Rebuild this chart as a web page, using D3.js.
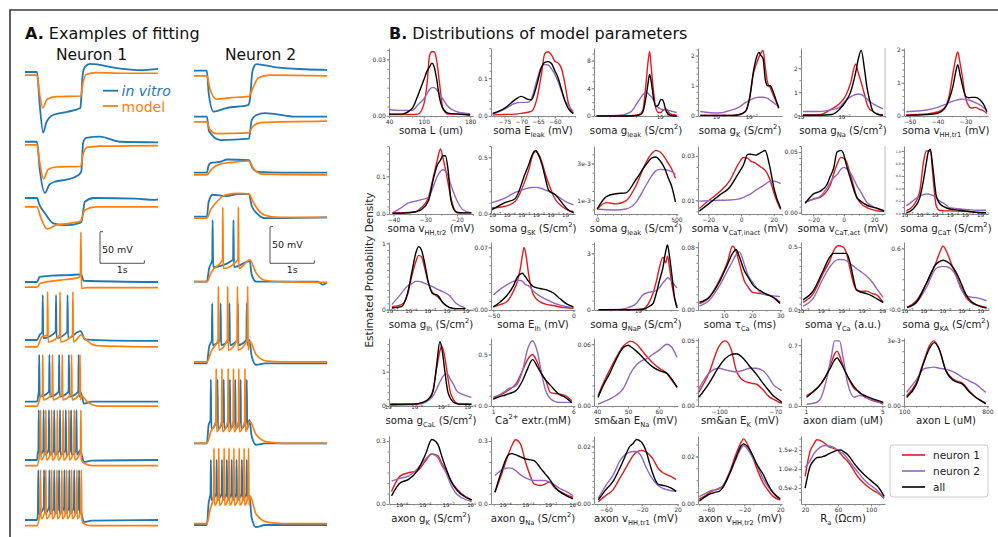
<!DOCTYPE html>
<html>
<head>
<meta charset="utf-8">
<script src="https://cdn.jsdelivr.net/npm/d3@7"></script>
<style>
body { margin: 0; background: #fff; }
svg { display: block; font-family: "DejaVu Sans", sans-serif; }
text { white-space: pre; }
</style>
</head>
<body>
<svg id="fig" width="998" height="537"></svg>
<script>

// ---------- Panel A: voltage traces, keypoints [t (s), dV (mV)] ----------
var n1VitroBase = [
  [0,0, 0.27,0, 0.33,-50, 0.41,-96, 0.48,-80, 0.63,-68, 0.95,-63, 1.25,-57, 1.27,-40, 1.3,-5, 1.35,8, 1.47,13, 2.08,6, 2.6,3, 3.0,5],
  [0,2, 0.27,2, 0.33,-40, 0.45,-79, 0.55,-66, 0.68,-61, 0.94,-58, 1.2,-51, 1.27,-45, 1.31,0, 1.38,8, 1.69,10, 2.14,2, 3.0,1],
  [0,0, 0.27,0, 0.32,-10, 0.45,-24, 0.64,-40, 0.94,-43, 1.2,-40, 1.27,-38, 1.35,-6, 1.55,0, 2.5,-1, 2.9,-3, 3.0,-2],
  [0,0, 0.27,0, 0.33,8, 0.6,10, 1.0,11, 1.27,12, 1.32,2, 3.0,0],
  [0,0, 0.27,0, 0.33,8, 1.25,14, 1.28,12, 1.35,1, 2.0,-1, 3.0,-1.5],
  [0,0, 0.27,0, 0.3,10, 1.25,16, 1.28,10, 1.33,-3, 1.5,0, 3.0,0],
  [0,0, 0.27,0, 0.29,12, 1.25,16, 1.28,8, 1.33,-3, 1.5,-1, 3.0,0],
  [0,0, 0.27,0, 0.29,10, 1.25,16, 1.28,8, 1.33,-3, 1.5,-1, 3.0,0]
];
var n1ModelBase = [
  [0,-5, 0.27,-5, 0.33,-35, 0.4,-57, 0.5,-43, 0.7,-39, 1.26,-38, 1.3,-20, 1.38,-4, 1.6,-1, 2.2,-2, 3.0,-2],
  [0,-3, 0.27,-3, 0.33,-30, 0.42,-57, 0.52,-42, 0.7,-38, 1.26,-37, 1.3,-20, 1.4,-7, 1.7,-5, 3.0,-4],
  [0,-14, 0.27,-14, 0.35,-30, 0.5,-49, 0.7,-43, 1.0,-40, 1.25,-37, 1.35,-19, 1.6,-14, 3.0,-14],
  [0,-8, 0.27,-8, 0.35,-2, 0.8,3, 1.2,7, 1.25,10, 1.26,79, 1.275,-10, 1.4,-9, 3.0,-9],
  [0,-11, 0.27,-11, 0.38,5, 1.27,8, 1.35,2, 1.6,-9, 3.0,-11],
  [0,-7, 0.27,-7, 0.35,8, 1.28,9, 1.4,0, 1.65,-7, 3.0,-7],
  [0,-9, 0.27,-9, 0.33,8, 1.3,-3, 1.36,-6, 1.5,-9, 3.0,-9],
  [0,-9, 0.27,-9, 0.33,8, 1.3,-4, 1.36,-7, 1.5,-9, 3.0,-9]
];
var n1VitroSpikes = [[], [], [], [],
  [0.40, 0.70, 0.96],
  [0.32, 0.55, 0.77, 0.99, 1.21],
  [0.31, 0.42, 0.54, 0.66, 0.79, 0.92, 1.04, 1.16],
  [0.30, 0.43, 0.55, 0.66, 0.77, 0.89, 1.0, 1.11, 1.22]];
var n1ModelSpikes = [[], [], [], [],
  [0.51, 0.79, 1.08],
  [0.40, 0.62, 0.84, 1.05, 1.24],
  [0.35, 0.47, 0.60, 0.73, 0.86, 0.99, 1.11, 1.26],
  [0.35, 0.47, 0.60, 0.72, 0.83, 0.94, 1.05, 1.17, 1.27]];
// [threshold, peak, trough] in mV
var n1VitroLevels = [null, null, null, null, [13,71,3], [16,74,8], [16,79,8], [20,79,10]];
var n1ModelLevels = [null, null, null, null, [8,76,-3], [13,74,3], [14,79,0], [16,79,2]];

var n2VitroBase = [
  [0,0, 0.29,0, 0.33,-30, 0.44,-56, 0.73,-51, 1.22,-47, 1.26,-40, 1.32,0, 1.41,9, 1.8,5, 2.5,2, 3.0,1],
  [0,0, 0.29,0, 0.34,-20, 0.6,-32, 1.24,-30, 1.3,-5, 1.4,2, 1.6,5, 2.3,0, 3.0,0],
  [0,0, 0.29,0, 0.33,10, 0.37,13, 0.6,15, 0.75,18, 1.24,17, 1.32,6, 1.45,1, 2.0,0, 3.0,0],
  [0,0, 0.29,0, 0.33,20, 0.42,30, 0.72,28, 1.0,31, 1.24,31, 1.3,15, 1.43,4, 1.6,-2, 3.0,-1],
  [0,0, 0.29,0, 0.34,18, 1.26,28, 1.3,10, 1.4,0, 2.8,0, 2.9,-4, 3.0,-1],
  [0,0, 0.29,0, 0.34,22, 1.25,32, 1.3,10, 1.4,-2, 1.6,0, 3.0,0],
  [0,0, 0.29,0, 0.33,25, 1.25,32, 1.3,10, 1.4,-2, 1.6,0, 3.0,0],
  [0,0, 0.29,0, 0.33,30, 1.25,40, 1.3,10, 1.4,-3, 1.6,0, 3.0,0]
];
var n2ModelBase = [
  [0,-7, 0.29,-7, 0.36,-25, 0.51,-39, 0.8,-37, 1.24,-35, 1.32,-25, 1.45,-10, 1.7,-6, 3.0,-7],
  [0,-7, 0.29,-7, 0.36,-18, 0.5,-23, 1.24,-22, 1.32,-14, 1.5,-8, 3.0,-6],
  [0,-3, 0.29,-3, 0.4,5, 0.6,12, 0.85,14, 1.24,16, 1.35,5, 1.55,-2, 3.0,-3],
  [0,-2, 0.29,-2, 0.38,10, 0.48,18, 0.72,30, 1.0,32, 1.24,31, 1.35,18, 1.6,2, 1.9,-1, 3.0,-1],
  [0,0, 0.29,0, 0.4,14, 0.6,26, 1.26,30, 1.4,12, 1.6,2, 2.0,0, 3.0,-1],
  [0,2, 0.29,2, 0.4,18, 1.26,30, 1.4,12, 1.65,3, 2.0,2, 3.0,2],
  [0,0, 0.29,0, 0.38,16, 1.26,30, 1.4,12, 1.65,2, 2.0,0, 3.0,0],
  [0,2, 0.29,2, 0.36,20, 1.26,40, 1.4,15, 1.65,4, 2.0,2, 3.0,2]
];
var n2VitroSpikes = [[], [], [], [],
  [0.42, 0.89],
  [0.41, 0.60, 0.80, 0.99, 1.19],
  [0.38, 0.53, 0.67, 0.81, 0.93, 1.05, 1.19],
  [0.38, 0.51, 0.63, 0.74, 0.85, 0.96, 1.08, 1.19]];
var n2ModelSpikes = [[], [], [], [],
  [0.65, 1.0],
  [0.55, 0.76, 0.98, 1.21],
  [0.50, 0.63, 0.77, 0.89, 1.01, 1.15],
  [0.45, 0.56, 0.68, 0.79, 0.90, 1.02, 1.13, 1.23]];
var n2VitroLevels = [null, null, null, null, [30,84,20], [32,82,25], [32,87,20], [43,89,34]];
var n2ModelLevels = [null, null, null, null, [30,102,18], [32,105,18], [30,102,16], [40,105,27]];

// ---------- Panel B: parameter distributions ----------
var paramLabels = [
  "soma L (um)", "soma E_{leak} (mV)", "soma g_{leak} (S/cm^{2})", "soma g_{K} (S/cm^{2})", "soma g_{Na} (S/cm^{2})", "soma v_{HH,tr1} (mV)",
  "soma v_{HH,tr2} (mV)", "soma g_{SK} (S/cm^{2})", "soma g_{leak} (S/cm^{2})", "soma v_{CaT,inact} (mV)", "soma v_{CaT,act} (mV)", "soma g_{CaT} (S/cm^{2})",
  "soma g_{Ih} (S/cm^{2})", "soma E_{Ih} (mV)", "soma g_{NaP} (S/cm^{2})", "soma \u03c4_{Ca} (ms)", "soma \u03b3_{Ca} (a.u.)", "soma g_{KA} (S/cm^{2})",
  "soma g_{CaL} (S/cm^{2})", "Ca^{2+} extr.(mM)", "sm&an E_{Na} (mV)", "sm&an E_{K} (mV)", "axon diam (uM)", "axon L (uM)",
  "axon g_{K} (S/cm^{2})", "axon g_{Na} (S/cm^{2})", "axon v_{HH,tr1} (mV)", "axon v_{HH,tr2} (mV)", "R_{a} (\u03a9cm)"
];
var logParams = [2, 3, 4, 7, 11, 12, 14, 16, 17, 18, 24, 25]; // x is log10 of value
var xDomains = [
  [40,185], [-79,-54], [-7.6,-4.4], [-3.63,-1.06], [-3.05,-1.0], [-52,-22],
  [-41.4,-15], [-7.25,-1.5], [-20,510], [-26.3,25], [-28,27], [-7.2,-1.65],
  [-7.15,-2.75], [-51.5,1], [-7.55,-4.75], [0.7,30.6], [-5.1,-0.98], [-7.16,-2.74],
  [-7.05,-3.88], [0.86,6.1], [39,66.2], [-111.3,-66.4], [0.74,5.14], [98,805],
  [-7.1,0.15], [-7.25,0.15], [-73.3,20.5], [-71.3,21.9], [15,117]
];
var xTicks = [
  [40,100,180], [-75,-70,-65,-60], [-5], [-3,-2], [-3,-2], [-50,-40,-30],
  [-40,-30,-20], [-7,-6,-5,-4,-3,-2], [0,500], [-20,0,20], [-20,0,20], [-7,-6,-5,-4,-3,-2],
  [-7,-6,-5,-4,-3], [-50,0], [-6], [10,20,30], [-5,-4,-3,-2,-1], [-7,-6,-5,-4,-3],
  [-7,-6,-5,-4], [1,6], [40,50,60], [-100,-70], [1,5], [100,800],
  [-6,-4,-2,0], [-6,-4,-2,0], [-60,-20,20], [-60,-20,20], [20,60,100]
];
var yDomains = [
  [0,0.036], [0,0.18], [0,9.8], [0,2.25], [0,2.85], [0,2.05],
  [0,0.18], [0,0.6], [0.25e-3,3.95e-3], [0.0038,0.0345], [-0.001,0.055], [-0.01,1.08],
  [0,1.02], [0,0.076], [0,3.6], [0,0.0865], [0,0.54], [0,0.662],
  [0,1.98], [0,0.66], [0,0.066], [0,0.0516], [0,0.783], [0,3.1e-3],
  [0,0.324], [0,0.324], [0,0.0236], [0,0.0286], [0.0008,0.0187]
];
var yTicks = [
  [0,0.03], [0,0.1], [0,4,8], [0,1,2], [0,1,2], [0,1,2],
  [0,0.1], [0,0.5], [1e-3,3e-3], [0.01,0.03], [0,0.05], [0,0.2,0.4,0.6,0.8,1.0],
  [0,1], [0,0.07], [0,3], [0,0.08], [0,0.5], [0,0.6],
  [0,1], [0,0.5], [0,0.06], [0,0.05], [0,0.7], [0,3e-3],
  [0,0.3], [0,0.3], [0,0.02], [0,0.02], [0.005,0.01,0.015]
];
var yTickLabels = [
  ["0.00","0.03"], ["0.0","0.1"], ["0","4","8"], ["0","1","2"], ["0","1","2"], ["0","1","2"],
  ["0.0","0.1"], ["0.0","0.5"], ["1e-3","3e-3"], ["0.01","0.03"], ["0.00","0.05"], ["0.0","0.2","0.4","0.6","0.8","1.0"],
  ["0","1"], ["0.00","0.07"], ["0","3"], ["0.00","0.08"], ["0.0","0.5"], ["0.0","0.6"],
  ["0","1"], ["0.0","0.5"], ["0.00","0.06"], ["0.00","0.05"], ["0.0","0.7"], ["0.00","3e-3"],
  ["0.0","0.3"], ["0.0","0.3"], ["0.00","0.02"], ["0.00","0.02"], ["0.5e-2","1.0e-2","1.5e-2"]
];
var gridX = [
  [40,60,80,90,100,106,110,114,118,122,127,133,142,160,180],
  [-78.5,-75,-72,-70,-68,-67,-65.5,-64,-63,-62,-61,-60,-59,-58,-57,-56,-54.5],
  [-7.5,-6.6,-6.2,-5.9,-5.75,-5.62,-5.55,-5.48,-5.42,-5.35,-5.25,-5.15,-5.05,-4.98,-4.85,-4.7,-4.45],
  [-3.56,-3.0,-2.6,-2.4,-2.18,-2.05,-1.93,-1.85,-1.77,-1.7,-1.64,-1.57,-1.5,-1.42,-1.33,-1.25,-1.16],
  [-3,-2.6,-2.3,-2.12,-1.96,-1.84,-1.72,-1.65,-1.58,-1.5,-1.44,-1.38,-1.3,-1.2,-1.05],
  [-51.2,-44,-40,-37.5,-35.9,-34.5,-33.6,-32.8,-32,-31.2,-30,-29,-28,-26.5,-25,-23.5,-22.4],
  [-40.3,-38,-35.5,-33,-31.2,-29,-27.4,-26.3,-25.2,-24.5,-23.7,-22.8,-22,-21,-20,-18.3,-15.5],
  [-7.18,-6.3,-5.6,-4.93,-4.6,-4.47,-4.19,-4.0,-3.77,-3.5,-3.31,-2.85,-2.4,-2.0,-1.6],
  [0,58,119,181,243,305,346,370,397,428,449,470,494],
  [-25.5,-19.6,-13.3,-6.9,-1.7,1.5,4.0,5.7,8.8,12,14.7,17.3,20.4,24.2],
  [-25.3,-19.8,-15.4,-11,-8.8,-6.6,-4.4,-1.8,0,1.1,4.4,8.8,11,15.4,20.9,26.4],
  [-7.04,-6.6,-6.17,-5.9,-5.73,-5.6,-5.46,-5.29,-5.07,-4.85,-4.5,-4.19,-3.5,-2.9,-2.4,-1.78],
  [-7,-6.5,-6.18,-5.93,-5.75,-5.6,-5.45,-5.28,-5.1,-4.87,-4.6,-4.3,-4.0,-3.64,-3.15],
  [-50,-45.8,-41.7,-37.5,-35,-33.3,-31.8,-30.8,-29.5,-28,-25,-20.8,-16,-12.5,-8.3,-4,0],
  [-7.4,-6.8,-6.47,-6.14,-5.92,-5.7,-5.58,-5.47,-5.36,-5.25,-5.16,-5.1,-5.03,-4.95,-4.86,-4.78],
  [1.2,4.6,8.2,11.2,13,14.2,15.4,17.2,18.4,20.2,22.7,25.1,27.5,29.9],
  [-5,-4.51,-4.02,-3.69,-3.5,-3.28,-3.03,-2.87,-2.7,-2.54,-2.38,-2.13,-1.89,-1.6,-1.39,-1.07],
  [-7,-6.51,-5.98,-5.5,-5.3,-5.1,-4.9,-4.67,-4.4,-4.2,-3.9,-3.6,-3.35,-2.82],
  [-7,-6.2,-5.8,-5.5,-5.38,-5.25,-5.13,-5.06,-4.94,-4.84,-4.75,-4.63,-4.5,-4.31,-3.94],
  [1,1.61,2.0,2.43,2.84,3.14,3.45,3.76,4.06,4.27,4.57,5.08,5.49,5.9],
  [40.3,42,44.1,46,48.5,50.1,50.7,52.8,54.5,56.1,58,60.4,62.6,64.2,65.9],
  [-110.9,-105.5,-100,-96.7,-93.6,-90.9,-87.3,-83.6,-80,-76.4,-73.6,-70.9,-68,-66.5],
  [1.03,1.55,1.8,2.07,2.33,2.5,2.64,2.76,2.93,3.19,3.53,3.79,3.97,4.31,4.66,5.05],
  [120,198,268,310,352,394,450,506,550,590,646,702,758,786],
  [-6.88,-6.15,-5.41,-4.68,-3.94,-3.41,-2.91,-2.5,-2.18,-1.74,-1.3,-0.85,0.03],
  [-6.9,-6.3,-5.7,-5.4,-5.1,-4.66,-4.21,-3.76,-3.46,-2.87,-2.5,-2.12,-1.6,-1.22,-0.63,-0.03],
  [-68.5,-60,-51.9,-44.4,-40.7,-33.3,-29.6,-25.9,-20.4,-14.8,-11.1,-7.4,-1.9,3,7.4,13,18.5],
  [-69.8,-63,-59.2,-51.7,-47.9,-44.2,-36.6,-29.1,-23.4,-20.8,-15.8,-10,-6.4,1.1,6,12.5,20],
  [20,26.2,30.3,34.4,40.5,44.6,48.7,54.9,59,63.1,67.2,71.3,79.5,83.6,91.8,95.9,104.1,108.2,116]
];
var neuron1Vals = [
  [0.0008,0.0008,0.0008,0.001,0.006,0.018,0.032,0.034,0.034,0.03,0.018,0.004,0.001,0.001,0.0005],
  [0.003,0.004,0.005,0.007,0.01,0.012,0.04,0.11,0.165,0.17,0.162,0.145,0.14,0.125,0.085,0.035,0.007],
  [0,0,0.05,0.2,0.7,4.6,7.5,9.3,7,4.2,1.2,0.5,0.5,0.8,1.0,0.3,0.1],
  [0.02,0.02,0.02,0.03,0.15,0.6,1.42,1.7,1.94,2.1,2.17,1.6,1.1,0.94,0.7,0.5,0.25],
  [0.04,0.05,0.3,0.5,0.85,1.38,2.17,1.8,1.4,0.9,0.5,0.3,0.2,0.1,0.03],
  [0.03,0.06,0.12,0.25,0.6,1.3,1.7,1.93,1.6,1.2,0.54,0.32,0.24,0.26,0.2,0.15,0.08],
  [0.003,0.003,0.004,0.006,0.017,0.044,0.1,0.14,0.172,0.15,0.12,0.08,0.045,0.015,0.004,0.003,0.003],
  [0.053,0.068,0.11,0.29,0.42,0.49,0.55,0.53,0.46,0.34,0.27,0.13,0.068,0.035,0.02],
  [0.52e-3,0.87e-3,0.8e-3,0.96e-3,1.76e-3,3.0e-3,3.55e-3,3.71e-3,3.62e-3,3.3e-3,3.0e-3,2.7e-3,2.2e-3],
  [0.0063,0.01,0.0137,0.0189,0.0263,0.0293,0.029,0.0278,0.0268,0.025,0.0235,0.02,0.0125,0.0058],
  [0.0087,0.0115,0.0127,0.018,0.023,0.032,0.04,0.0456,0.045,0.0437,0.0314,0.0123,0.008,0.0041,0.0019,0.001],
  [0.04,0.12,0.34,0.84,1.0,1.0,1.0,0.6,0.12,0.05,0.04,0.04,0.035,0.03,0.02,0.015],
  [0.05,0.08,0.23,0.54,0.72,0.82,0.8,0.63,0.42,0.26,0.2,0.1,0.04,0.02,0.02],
  [0.0034,0.006,0.0092,0.021,0.032,0.045,0.062,0.07,0.06,0.04,0.017,0.009,0.006,0.005,0.0034,0.0025,0.002],
  [0.02,0.02,0.02,0.03,0.05,0.44,0.9,1.53,2.3,2.8,2.5,2.85,2.2,1.3,0.6,0.2],
  [0.0082,0.016,0.037,0.061,0.081,0.075,0.06,0.037,0.03,0.0224,0.021,0.02,0.016,0.01],
  [0.06,0.128,0.29,0.39,0.47,0.51,0.5,0.45,0.33,0.22,0.16,0.148,0.15,0.13,0.12,0.06],
  [0.026,0.09,0.26,0.45,0.55,0.62,0.56,0.45,0.33,0.24,0.124,0.07,0.05,0.026],
  [0.03,0.04,0.08,0.25,0.5,1.1,1.6,1.75,1.4,0.9,0.45,0.2,0.08,0.05,0.05],
  [0.083,0.12,0.16,0.217,0.35,0.45,0.5,0.42,0.3,0.25,0.13,0.117,0.1,0.05],
  [0.01,0.022,0.035,0.046,0.0583,0.062,0.063,0.06,0.054,0.048,0.042,0.036,0.0317,0.025,0.018],
  [0.0104,0.0248,0.0455,0.0494,0.043,0.0273,0.0195,0.0175,0.0165,0.012,0.0075,0.005,0.003,0.002],
  [0.119,0.198,0.26,0.356,0.5,0.6,0.632,0.58,0.47,0.336,0.2,0.16,0.119,0.08,0.05,0.03],
  [0.47e-3,1.02e-3,2.1e-3,2.73e-3,2.97e-3,2.58e-3,1.64e-3,1.25e-3,1.12e-3,1.05e-3,0.7e-3,0.39e-3,0.2e-3,0.15e-3],
  [0.06,0.133,0.149,0.157,0.206,0.238,0.23,0.19,0.16,0.109,0.075,0.05,0.019],
  [0.056,0.144,0.24,0.28,0.306,0.287,0.2,0.13,0.096,0.088,0.095,0.104,0.075,0.06,0.045,0.032],
  [0.0008,0.003,0.005,0.009,0.0109,0.015,0.0168,0.018,0.0186,0.018,0.017,0.0156,0.0125,0.011,0.0103,0.0095,0.0085],
  [0.0021,0.0035,0.0046,0.006,0.0067,0.0074,0.0131,0.021,0.026,0.0274,0.0246,0.019,0.0153,0.0088,0.006,0.0031,0.0017],
  [0.0081,0.0148,0.0165,0.0177,0.0173,0.0166,0.0159,0.0154,0.015,0.014,0.013,0.0121,0.0095,0.0081,0.0062,0.0054,0.0042,0.0037,0.0023]
];
var neuron2Vals = [
  [0.0033,0.003,0.003,0.006,0.009,0.012,0.014,0.015,0.015,0.014,0.012,0.009,0.005,0.002,0.0012],
  [0.004,0.018,0.033,0.036,0.036,0.045,0.09,0.13,0.136,0.135,0.125,0.11,0.09,0.065,0.04,0.028,0.012],
  [0,0.1,0.6,2.2,3.0,3.4,3.3,3.0,2.8,2.4,1.6,1.2,1.0,0.95,0.9,0.75,0.5],
  [0.15,0.1,0.2,0.28,0.44,0.52,0.58,0.61,0.62,0.62,0.62,0.61,0.58,0.52,0.45,0.38,0.33],
  [0.19,0.19,0.27,0.35,0.65,0.8,0.9,0.92,0.9,0.8,0.72,0.62,0.52,0.42,0.3],
  [0.13,0.18,0.26,0.34,0.4,0.45,0.47,0.49,0.5,0.51,0.5,0.48,0.46,0.4,0.34,0.25,0.18],
  [0.003,0.014,0.029,0.034,0.038,0.044,0.075,0.098,0.113,0.117,0.115,0.1,0.078,0.055,0.035,0.012,0.003],
  [0.1,0.14,0.19,0.22,0.232,0.234,0.235,0.232,0.225,0.21,0.2,0.17,0.13,0.1,0.08],
  [0.52e-3,0.48e-3,0.47e-3,0.52e-3,0.87e-3,1.76e-3,2.35e-3,2.6e-3,2.68e-3,2.66e-3,2.62e-3,2.55e-3,2.4e-3],
  [0.0096,0.0098,0.01,0.0101,0.0105,0.0113,0.0122,0.0128,0.0145,0.0159,0.0172,0.0184,0.0186,0.0175],
  [0.0087,0.011,0.0135,0.0205,0.025,0.029,0.0314,0.036,0.0374,0.037,0.0328,0.022,0.0175,0.0082,0.0042,0.002],
  [0.12,0.2,0.28,0.3,0.31,0.31,0.3,0.29,0.25,0.2,0.15,0.09,0.07,0.06,0.05,0.05],
  [0.08,0.25,0.36,0.4,0.43,0.43,0.42,0.4,0.38,0.35,0.31,0.27,0.22,0.1,0.03],
  [0.0168,0.023,0.028,0.032,0.033,0.033,0.032,0.03,0.028,0.027,0.021,0.0155,0.011,0.008,0.0055,0.0038,0.0027],
  [0.02,0.03,0.1,0.35,0.8,0.95,0.98,1.02,1.2,1.44,1.6,1.71,1.65,1.53,1.3,1.16],
  [0.005,0.012,0.03,0.05,0.062,0.07,0.074,0.058,0.045,0.035,0.023,0.019,0.018,0.017],
  [0.03,0.09,0.25,0.34,0.38,0.4,0.4,0.39,0.37,0.35,0.33,0.3,0.27,0.22,0.17,0.1],
  [0.02,0.07,0.22,0.4,0.42,0.425,0.42,0.4,0.32,0.22,0.14,0.125,0.12,0.09],
  [0.05,0.06,0.08,0.2,0.3,0.5,0.7,0.8,0.92,0.93,0.8,0.65,0.45,0.35,0.25],
  [0.067,0.13,0.17,0.2,0.35,0.55,0.633,0.52,0.28,0.15,0.07,0.035,0.035,0.035],
  [0.0017,0.004,0.0067,0.01,0.017,0.027,0.031,0.04,0.044,0.046,0.05,0.055,0.06,0.057,0.047],
  [0.013,0.0248,0.0287,0.0275,0.0265,0.026,0.027,0.0287,0.0287,0.0265,0.0221,0.016,0.013,0.0117],
  [0.02,0.04,0.1,0.297,0.573,0.75,0.75,0.75,0.573,0.257,0.1,0.12,0.12,0.08,0.06,0.02],
  [0.62e-3,1.17e-3,1.7e-3,1.75e-3,1.77e-3,1.72e-3,1.67e-3,1.58e-3,1.45e-3,1.3e-3,1.15e-3,1.0e-3,0.75e-3,0.62e-3],
  [0.109,0.122,0.133,0.165,0.214,0.238,0.222,0.18,0.149,0.09,0.05,0.031,0.011],
  [0.136,0.162,0.172,0.17,0.16,0.14,0.124,0.115,0.112,0.112,0.112,0.105,0.09,0.075,0.06,0.04],
  [0.002,0.0065,0.01,0.015,0.0165,0.018,0.0182,0.0182,0.0165,0.0125,0.0103,0.0085,0.0065,0.0055,0.005,0.0046,0.0044],
  [0.0031,0.0045,0.0053,0.006,0.0064,0.0074,0.0124,0.0189,0.0235,0.0246,0.0228,0.019,0.0167,0.0105,0.0075,0.0046,0.0024],
  [0.0104,0.0122,0.0139,0.015,0.016,0.0162,0.0161,0.0157,0.015,0.0144,0.0139,0.0128,0.0104,0.0093,0.0072,0.0063,0.005,0.0042,0.0023]
];
var allVals = [
  [0.001,0.001,0.004,0.011,0.019,0.024,0.026,0.028,0.026,0.02,0.01,0.004,0.0015,0.001,0.0005],
  [0.007,0.02,0.042,0.052,0.044,0.043,0.078,0.128,0.142,0.144,0.139,0.12,0.1,0.07,0.04,0.02,0.006],
  [0,0,0,0.1,0.5,2.7,4.5,6.0,5.0,3.0,1.4,1.6,2.4,2.3,0.7,0.1,0],
  [0.02,0.02,0.02,0.04,0.15,0.6,1.5,1.9,2.1,2.0,1.9,1.2,1.0,1.0,0.8,0.55,0.27],
  [0.03,0.03,0.06,0.26,0.6,1.0,1.8,2.4,2.75,1.95,1.2,0.7,0.22,0.08,0.03],
  [0.02,0.04,0.08,0.22,0.5,0.9,1.3,1.55,1.25,0.95,0.6,0.55,0.56,0.56,0.5,0.34,0.13],
  [0.002,0.002,0.003,0.006,0.012,0.035,0.095,0.128,0.143,0.154,0.154,0.114,0.04,0.012,0.004,0.003,0.003],
  [0.038,0.1,0.135,0.35,0.46,0.51,0.56,0.52,0.44,0.3,0.21,0.17,0.1,0.04,0.012],
  [0.52e-3,1.2e-3,1.35e-3,1.4e-3,2.1e-3,2.9e-3,3.3e-3,3.35e-3,3.15e-3,2.7e-3,2.2e-3,1.76e-3,0.9e-3],
  [0.0051,0.0085,0.0122,0.0159,0.022,0.026,0.0307,0.0308,0.0304,0.0315,0.0325,0.026,0.0144,0.0063],
  [0.0077,0.0156,0.0178,0.0233,0.03,0.0369,0.05,0.0514,0.048,0.0423,0.028,0.012,0.0096,0.006,0.004,0.0014],
  [0.01,0.07,0.24,0.55,0.8,0.98,1.03,0.73,0.28,0.16,0.1,0.07,0.05,0.03,0.015,0.01],
  [0.03,0.05,0.25,0.6,0.85,0.95,0.9,0.7,0.43,0.25,0.22,0.1,0.04,0.02,0.02],
  [0.0034,0.009,0.016,0.027,0.037,0.04,0.041,0.039,0.036,0.032,0.026,0.024,0.022,0.019,0.0125,0.0065,0.0034],
  [0.01,0.01,0.01,0.02,0.04,0.2,0.35,0.9,1.6,2.26,3.1,3.44,2.8,1.8,0.6,0.1],
  [0.01,0.016,0.035,0.058,0.072,0.077,0.068,0.05,0.0426,0.032,0.025,0.02,0.016,0.0082],
  [0.08,0.15,0.31,0.42,0.45,0.45,0.45,0.45,0.38,0.26,0.16,0.14,0.13,0.11,0.09,0.06],
  [0.026,0.075,0.26,0.44,0.47,0.485,0.47,0.435,0.36,0.28,0.15,0.08,0.05,0.02],
  [0.05,0.05,0.1,0.25,0.45,1.2,1.87,1.7,1.0,0.45,0.25,0.12,0.07,0.05,0.05],
  [0.067,0.1,0.12,0.15,0.25,0.36,0.45,0.38,0.3,0.25,0.2,0.117,0.083,0.033],
  [0.0083,0.02,0.0317,0.044,0.0567,0.059,0.058,0.053,0.048,0.043,0.038,0.034,0.0317,0.026,0.018],
  [0.0065,0.017,0.03,0.036,0.039,0.0396,0.0365,0.03,0.024,0.017,0.012,0.0075,0.0045,0.0026],
  [0.1,0.198,0.26,0.356,0.46,0.53,0.554,0.52,0.455,0.34,0.22,0.158,0.13,0.1,0.07,0.04],
  [0.39e-3,0.94e-3,2.03e-3,2.6e-3,2.89e-3,2.6e-3,1.6e-3,1.2e-3,1.08e-3,1.0e-3,0.65e-3,0.4e-3,0.2e-3,0.1e-3],
  [0.039,0.1,0.117,0.157,0.238,0.307,0.287,0.22,0.17,0.109,0.07,0.045,0.019],
  [0.056,0.16,0.235,0.24,0.235,0.225,0.215,0.21,0.207,0.17,0.145,0.12,0.08,0.06,0.04,0.024],
  [0.0014,0.005,0.0079,0.0125,0.015,0.02,0.021,0.0224,0.0215,0.018,0.014,0.0103,0.0069,0.0065,0.0062,0.0055,0.0044],
  [0.0013,0.0031,0.004,0.005,0.0053,0.0067,0.0124,0.0196,0.0245,0.0253,0.0239,0.02,0.017,0.0124,0.0085,0.0045,0.0021],
  [0.005,0.0108,0.0122,0.013,0.0132,0.0135,0.014,0.0146,0.0149,0.015,0.0145,0.0139,0.0115,0.0104,0.0085,0.0077,0.0062,0.0054,0.0028]
];
var legendNames = ["neuron 1", "neuron 2", "all"];

// ---------- drawing ----------
var svg = d3.select("#fig");
var cVitro = "#1f77b4", cModel = "#ff7f0e";
var seriesColors = ["#e41a1c", "#9467bd", "#000000"];

// text with _{sub} and ^{sup}
function richText(sel, str, size, ratio) {
  ratio = ratio || 0.7;
  var parts = str.split(/(_\{[^}]*\}|\^\{[^}]*\})/).filter(function (s) { return s.length; });
  var cur = 0;
  parts.forEach(function (p) {
    var target = 0, txt = p, small = false;
    if (p.slice(0, 2) === "_{") { target = size * 0.3; txt = p.slice(2, -1); small = true; }
    else if (p.slice(0, 2) === "^{") { target = -size * 0.42; txt = p.slice(2, -1); small = true; }
    var ts = sel.append("tspan").attr("dy", target - cur).text(txt);
    if (small) ts.attr("font-size", size * ratio);
    cur = target;
  });
}

// frame around the figure
svg.append("path").attr("d", "M10,537V10H998")
  .attr("fill", "none").attr("stroke", "#3a3a3a").attr("stroke-width", 1.6);

function panelTitle(x, letter, rest) {
  var t = svg.append("text").attr("x", x).attr("y", 39).attr("font-size", 16).attr("fill", "#111");
  t.append("tspan").attr("font-weight", "bold").text(letter);
  t.append("tspan").text(rest);
}
panelTitle(25, "A.", " Examples of fitting");
panelTitle(389, "B.", " Distributions of model parameters");

// build a trace from envelope keypoints plus spike times
function buildTrace(base, spikes, lv) {
  var pts = [];
  for (var i = 0; i < base.length; i += 2) pts.push([base[i], base[i + 1]]);
  if (!spikes.length) return pts;
  var first = spikes[0] - 0.008, last = spikes[spikes.length - 1] + 0.012;
  pts = pts.filter(function (p) { return p[0] < first || p[0] > last; });
  spikes.forEach(function (ts) {
    pts.push([ts - 0.008, lv[0]], [ts, lv[1]], [ts + 0.012, lv[2]]);
  });
  pts.sort(function (a, b) { return a[0] - b[0]; });
  return pts;
}

var neurons = [
  { name: "Neuron 1", x0: 25, pxmv: 0.632, rows: [72, 143, 198, 282, 340, 401.7, 460, 520],
    vitro: n1VitroBase, model: n1ModelBase, vs: n1VitroSpikes, ms: n1ModelSpikes,
    vl: n1VitroLevels, ml: n1ModelLevels, barX: 100, barY: 263.3 },
  { name: "Neuron 2", x0: 194, pxmv: 0.732, rows: [70.7, 116.7, 172.7, 216.7, 281.7, 363.3, 443.3, 525],
    vitro: n2VitroBase, model: n2ModelBase, vs: n2VitroSpikes, ms: n2ModelSpikes,
    vl: n2VitroLevels, ml: n2ModelLevels, barX: 270, barY: 263.3 }
];

neurons.forEach(function (nr) {
  var x = d3.scaleLinear().domain([0, 3]).range([nr.x0, nr.x0 + 133]);
  svg.append("text").attr("x", nr.x0 + 66.5).attr("y", 60)
    .attr("text-anchor", "middle").attr("font-size", 15.5).attr("fill", "#111").text(nr.name);

  nr.rows.forEach(function (anchor, k) {
    var y = d3.scaleLinear().domain([0, 1]).range([anchor, anchor - nr.pxmv]);
    var line = d3.line().x(function (p) { return x(p[0]); }).y(function (p) { return y(p[1]); })
      .curve(d3.curveMonotoneX);
    svg.append("path").attr("d", line(buildTrace(nr.vitro[k], nr.vs[k], nr.vl[k])))
      .attr("fill", "none").attr("stroke", cVitro).attr("stroke-width", 1.8).attr("stroke-linejoin", "round");
    svg.append("path").attr("d", line(buildTrace(nr.model[k], nr.ms[k], nr.ml[k])))
      .attr("fill", "none").attr("stroke", cModel).attr("stroke-width", 1.7).attr("stroke-linejoin", "round");
  });

  // scale bar: 50 mV, 1 s
  var h = 50 * nr.pxmv, w = x(1) - x(0);
  var bx = nr.barX, by = nr.barY;
  svg.append("path")
    .attr("d", "M" + (bx + 3) + "," + (by - h) + "H" + bx + "V" + by + "H" + (bx + w) + "V" + (by - 3))
    .attr("fill", "none").attr("stroke", "#555").attr("stroke-width", 1);
  svg.append("text").attr("x", bx + 2).attr("y", by - h + 21).attr("font-size", 9.5).attr("fill", "#222").text("50 mV");
  svg.append("text").attr("x", bx + w / 2).attr("y", by + 10).attr("text-anchor", "middle")
    .attr("font-size", 9.5).attr("fill", "#222").text("1s");
});

// panel A legend
[["in vitro", cVitro, 90.7, "italic"], ["model", cModel, 106, "normal"]].forEach(function (d) {
  svg.append("line").attr("x1", 103).attr("x2", 118).attr("y1", d[2]).attr("y2", d[2])
    .attr("stroke", d[1]).attr("stroke-width", 1.8);
  svg.append("text").attr("x", 121.5).attr("y", d[2] + 5.5).attr("font-size", 14)
    .attr("font-style", d[3]).attr("fill", d[1]).text(d[0]);
});

// panel B grid
var colX = [389, 491, 594, 698, 801, 904], rowY = [48, 146, 242, 338, 436], pw = 84, ph = 68;
var fmt = d3.format("");

paramLabels.forEach(function (lab, i) {
  var r = Math.floor(i / 6), c = i % 6;
  var isLog = logParams.indexOf(i) >= 0;
  var g = svg.append("g").attr("transform", "translate(" + colX[c] + "," + rowY[r] + ")");
  var x = d3.scaleLinear().domain(xDomains[i]).range([0, pw]);
  var y = d3.scaleLinear().domain(yDomains[i]).range([ph, 0]);

  var xd = xDomains[i], yd = yDomains[i];
  var xm = isLog ? d3.range(Math.ceil(xd[0]), Math.floor(xd[1]) + 1) : d3.ticks(xd[0], xd[1], 8);
  var ym = d3.ticks(yd[0], yd[1], 8).filter(function (v) { return v >= yd[0] && v <= yd[1]; });

  g.append("g").attr("transform", "translate(0," + ph + ")")
    .call(d3.axisBottom(x).tickValues(xm).tickSize(1.6).tickFormat(""))
    .call(function (s) { s.select(".domain").remove(); s.selectAll("line").attr("stroke", "#888"); });
  g.append("g")
    .call(d3.axisLeft(y).tickValues(ym).tickSize(1.6).tickFormat(""))
    .call(function (s) { s.select(".domain").remove(); s.selectAll("line").attr("stroke", "#888"); });

  var xa = g.append("g").attr("transform", "translate(0," + ph + ")")
    .call(d3.axisBottom(x).tickValues(xTicks[i]).tickSize(2.4).tickSizeOuter(0).tickPadding(1)
      .tickFormat(isLog ? function () { return ""; } : fmt));
  xa.attr("font-size", 6).attr("font-family", "DejaVu Sans");
  xa.select(".domain").attr("stroke", "#888");
  xa.selectAll(".tick line").attr("stroke", "#888");
  xa.selectAll(".tick text").attr("fill", "#333");
  if (isLog) {
    xa.selectAll(".tick text").attr("font-size", 5.4).each(function (d) {
      richText(d3.select(this), "10^{" + fmt(d) + "}", 5.4, 0.68);
    });
  }

  var ya = g.append("g")
    .call(d3.axisLeft(y).tickValues(yTicks[i]).tickSize(2.4).tickSizeOuter(0).tickPadding(0.8)
      .tickFormat(function (d, j) { return yTickLabels[i][j]; }));
  ya.attr("font-size", i === 11 ? 3.2 : 6).attr("font-family", "DejaVu Sans");
  ya.select(".domain").attr("stroke", "#888");
  ya.selectAll(".tick line").attr("stroke", "#888");
  ya.selectAll(".tick text").attr("fill", "#333");

  if (c === 4 && r < 2) {
    g.append("line").attr("x1", pw).attr("x2", pw).attr("y1", 0).attr("y2", ph)
      .attr("stroke", "#bbb").attr("stroke-width", 1);
  }

  var line = d3.line().x(function (d) { return x(d[0]); }).y(function (d) { return y(d[1]); })
    .curve(d3.curveMonotoneX);
  [neuron1Vals[i], neuron2Vals[i], allVals[i]].forEach(function (vals, k) {
    var pts = gridX[i].map(function (xv, j) { return [xv, vals[j]]; });
    g.append("path").attr("d", line(pts)).attr("fill", "none")
      .attr("stroke", seriesColors[k]).attr("stroke-width", 1.4).attr("stroke-linejoin", "round");
  });

  var xl = g.append("text").attr("x", pw / 2).attr("y", ph + 17.5).attr("text-anchor", "middle")
    .attr("font-size", 10.2).attr("fill", "#222");
  richText(xl, lab, 10.2, 0.66);
});

// shared y label
svg.append("text").attr("transform", "translate(373,270) rotate(-90)")
  .attr("text-anchor", "middle").attr("font-size", 10.5).attr("fill", "#222")
  .text("Estimated Probability Density");

// legend for panel B
var lg = svg.append("g").attr("transform", "translate(890,445)");
lg.append("rect").attr("width", 98).attr("height", 52).attr("rx", 3)
  .attr("fill", "#fff").attr("stroke", "#ccc").attr("stroke-width", 1);
legendNames.forEach(function (n, k) {
  var yy = 10 + k * 16;
  lg.append("line").attr("x1", 12).attr("x2", 35).attr("y1", yy).attr("y2", yy)
    .attr("stroke", seriesColors[k]).attr("stroke-width", 1.6);
  lg.append("text").attr("x", 43).attr("y", yy + 4).attr("font-size", 10.5).attr("fill", "#222").text(n);
});

</script>
</body>
</html>
